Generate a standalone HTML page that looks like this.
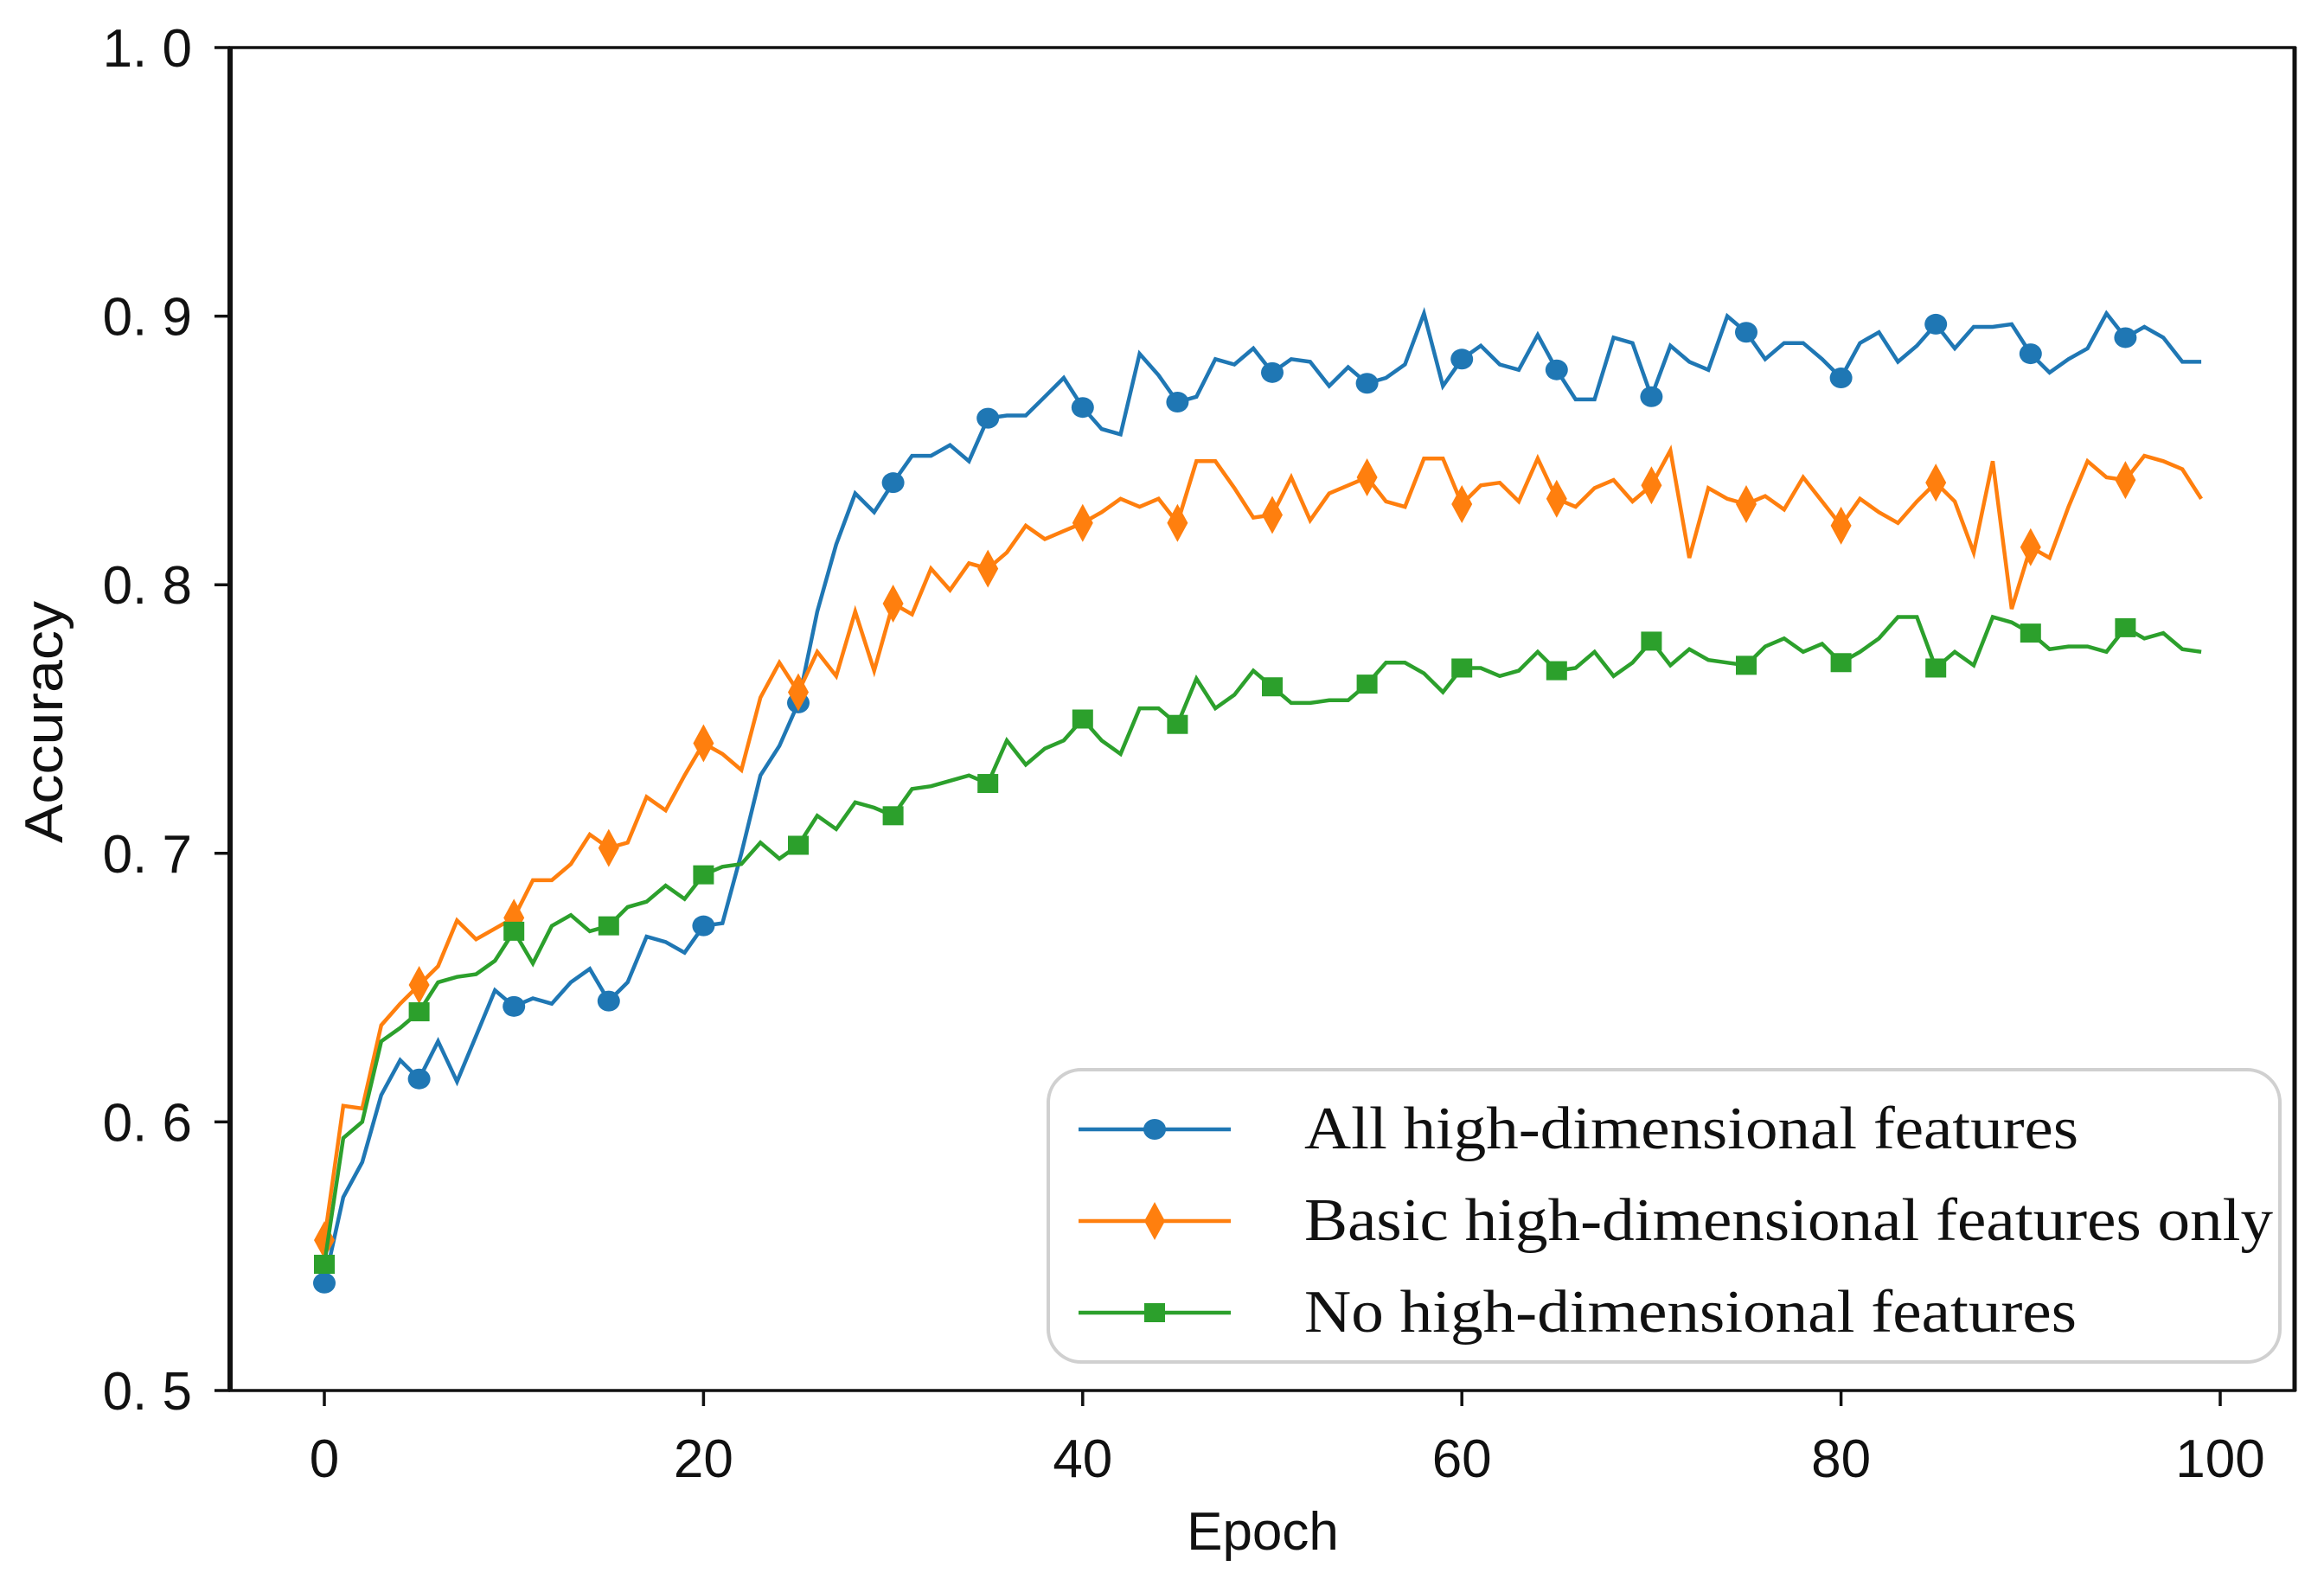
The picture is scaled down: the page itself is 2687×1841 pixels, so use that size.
<!DOCTYPE html>
<html><head><meta charset="utf-8"><style>
html,body{margin:0;padding:0;background:#fff;}
svg{display:block;}
</style></head><body>
<svg id="chart" width="2687" height="1841" viewBox="0 0 2687 1841" xmlns="http://www.w3.org/2000/svg">
<rect x="0" y="0" width="2687" height="1841" fill="#fff"/>
<g id="series"></g>
<g id="axes"></g>
<g id="legend"></g>
</svg>
<script>
const epochs = Array.from({length:100},(_,i)=>i);
const allFeatures = [0.540,0.572,0.585,0.610,0.623,0.616,0.630,0.615,0.632,0.649,0.643,0.646,0.644,0.652,0.657,0.645,0.652,0.669,0.667,0.663,0.673,0.674,0.700,0.729,0.740,0.756,0.790,0.815,0.834,0.827,0.838,0.848,0.848,0.852,0.846,0.862,0.863,0.863,0.870,0.877,0.866,0.858,0.856,0.886,0.878,0.868,0.870,0.884,0.882,0.888,0.879,0.884,0.883,0.874,0.881,0.875,0.877,0.882,0.901,0.874,0.884,0.889,0.882,0.880,0.893,0.880,0.869,0.869,0.892,0.890,0.870,0.889,0.883,0.880,0.900,0.894,0.884,0.890,0.890,0.884,0.877,0.890,0.894,0.883,0.889,0.897,0.888,0.896,0.896,0.897,0.886,0.879,0.884,0.888,0.901,0.892,0.896,0.892,0.883,0.883];
const basicFeatures = [0.556,0.606,0.605,0.636,0.644,0.651,0.658,0.675,0.668,0.672,0.676,0.690,0.690,0.696,0.707,0.702,0.704,0.721,0.716,0.729,0.741,0.737,0.731,0.758,0.771,0.760,0.775,0.766,0.790,0.768,0.793,0.789,0.806,0.798,0.808,0.806,0.812,0.822,0.817,0.820,0.823,0.827,0.832,0.829,0.832,0.823,0.846,0.846,0.836,0.825,0.826,0.840,0.824,0.834,0.837,0.840,0.831,0.829,0.847,0.847,0.830,0.837,0.838,0.831,0.847,0.832,0.829,0.836,0.839,0.831,0.837,0.850,0.810,0.836,0.832,0.830,0.833,0.828,0.840,0.831,0.822,0.832,0.827,0.823,0.831,0.838,0.831,0.812,0.846,0.791,0.814,0.810,0.829,0.846,0.840,0.839,0.848,0.846,0.843,0.832];
const noFeatures = [0.547,0.594,0.600,0.630,0.635,0.641,0.652,0.654,0.655,0.660,0.671,0.659,0.673,0.677,0.671,0.673,0.680,0.682,0.688,0.683,0.692,0.695,0.696,0.704,0.698,0.703,0.714,0.709,0.719,0.717,0.714,0.724,0.725,0.727,0.729,0.726,0.742,0.733,0.739,0.742,0.750,0.742,0.737,0.754,0.754,0.748,0.765,0.754,0.759,0.768,0.762,0.756,0.756,0.757,0.757,0.763,0.771,0.771,0.767,0.760,0.769,0.769,0.766,0.768,0.775,0.768,0.769,0.775,0.766,0.771,0.779,0.770,0.776,0.772,0.771,0.770,0.777,0.780,0.775,0.778,0.771,0.775,0.780,0.788,0.788,0.769,0.775,0.770,0.788,0.786,0.782,0.776,0.777,0.777,0.775,0.784,0.780,0.782,0.776,0.775];
const yTicks = [0.5,0.6,0.7,0.8,0.9,1.0];
const yTickLabels = ["0. 5","0. 6","0. 7","0. 8","0. 9","1. 0"];
const xTicks = [0,20,40,60,80,100];
const seriesNames = ["All high-dimensional features","Basic high-dimensional features only","No high-dimensional features"];

const NS="http://www.w3.org/2000/svg";
const X0=375, X1=2567, Y0=1608, Y1=55;
const L=266, R=2653;
function xs(v){return X0+(v-0)*(X1-X0)/100;}
function ys(v){return Y0-(v-0.5)*(Y0-Y1)/0.5;}
function mk(tag,attrs,parent){const e=document.createElementNS(NS,tag);for(const k in attrs)e.setAttribute(k,attrs[k]);parent.appendChild(e);return e;}

const colors=["#1f77b4","#ff7f0e","#2ca02c"];
const markers=["circle","diamond","square"];
const seriesData=[allFeatures,basicFeatures,noFeatures];
const sg=document.getElementById('series');
function drawMarker(type,cx,cy,color,parent){
  let m;
  if(type==="circle") m=mk('ellipse',{cx:cx,cy:cy,rx:13,ry:12,fill:color},parent);
  else if(type==="diamond") m=mk('polygon',{points:`${cx},${cy-22} ${cx+12},${cy} ${cx},${cy+22} ${cx-12},${cy}`,fill:color},parent);
  else m=mk('rect',{x:cx-12,y:cy-11,width:24,height:22,fill:color},parent);
  return m;
}
seriesData.forEach((d,si)=>{
  const g=mk('g',{},sg);
  
  
  const pts=d.map((v,i)=>xs(epochs[i]).toFixed(1)+','+ys(v).toFixed(1)).join(' ');
  const pl=mk('polyline',{points:pts,fill:'none',stroke:colors[si],'stroke-width':4.5,'stroke-linejoin':'miter'},g);
  
  
  d.forEach((v,i)=>{ if(i%5===0){
    const m=drawMarker(markers[si],xs(epochs[i]),ys(v),colors[si],g);
    
    
  }});
});

const ag=document.getElementById('axes');
const frame=mk('rect',{x:L,y:Y1,width:R-L,height:Y0-Y1,fill:'none',stroke:'#111','stroke-width':3.5},ag);


mk('line',{x1:L,y1:Y1-1,x2:L,y2:Y0+1,stroke:'#111','stroke-width':6},ag);
mk('line',{x1:R,y1:Y1-1,x2:R,y2:Y0+1,stroke:'#111','stroke-width':5},ag);
yTicks.forEach((t,i)=>{
  mk('line',{x1:L-18,y1:ys(t),x2:L,y2:ys(t),stroke:'#111','stroke-width':3.5},ag);
  const tx=mk('text',{x:L-44,y:ys(t)+22,'text-anchor':'end','font-family':'"Liberation Sans","Noto Sans CJK SC",sans-serif','font-size':62,fill:'#111'},ag);
  tx.textContent=yTickLabels[i];
  
  
});
xTicks.forEach((t)=>{
  mk('line',{x1:xs(t),y1:Y0,x2:xs(t),y2:Y0+18,stroke:'#111','stroke-width':3.5},ag);
  const tx=mk('text',{x:xs(t),y:1708,'text-anchor':'middle','font-family':'"Liberation Sans","Noto Sans CJK SC",sans-serif','font-size':62,fill:'#111'},ag);
  tx.textContent=String(t);
  
  
});
const xt=mk('text',{x:1460,y:1792,'text-anchor':'middle','font-family':'"Liberation Sans","Noto Sans CJK SC",sans-serif','font-size':62,fill:'#111'},ag);
xt.textContent="Epoch";


const yt=mk('text',{x:0,y:0,'text-anchor':'middle','font-family':'"Liberation Sans","Noto Sans CJK SC",sans-serif','font-size':62,fill:'#111',textLength:280,lengthAdjust:'spacingAndGlyphs',transform:'translate(72,835) rotate(-90)'},ag);
yt.textContent="Accuracy";



const lg=document.getElementById('legend');


mk('rect',{x:1212,y:1237,width:1424,height:338,rx:38,ry:38,fill:'#fff','fill-opacity':0.9,stroke:'#d0d0d0','stroke-width':4},lg);
const rowsY=[1306,1412,1518];
const textLens=[895,1120,893];
seriesNames.forEach((n,i)=>{
  const e=mk('g',{},lg);
  
  
  mk('line',{x1:1247,y1:rowsY[i],x2:1423,y2:rowsY[i],stroke:colors[i],'stroke-width':4.5},e);
  drawMarker(markers[i],1335,rowsY[i],colors[i],e);
  const tx=mk('text',{x:1508,y:rowsY[i]+22,'font-family':'"Liberation Serif",serif','font-size':70,fill:'#111',textLength:textLens[i],lengthAdjust:'spacingAndGlyphs'},e);
  tx.textContent=n;
  
  
});
</script>
</body></html>
